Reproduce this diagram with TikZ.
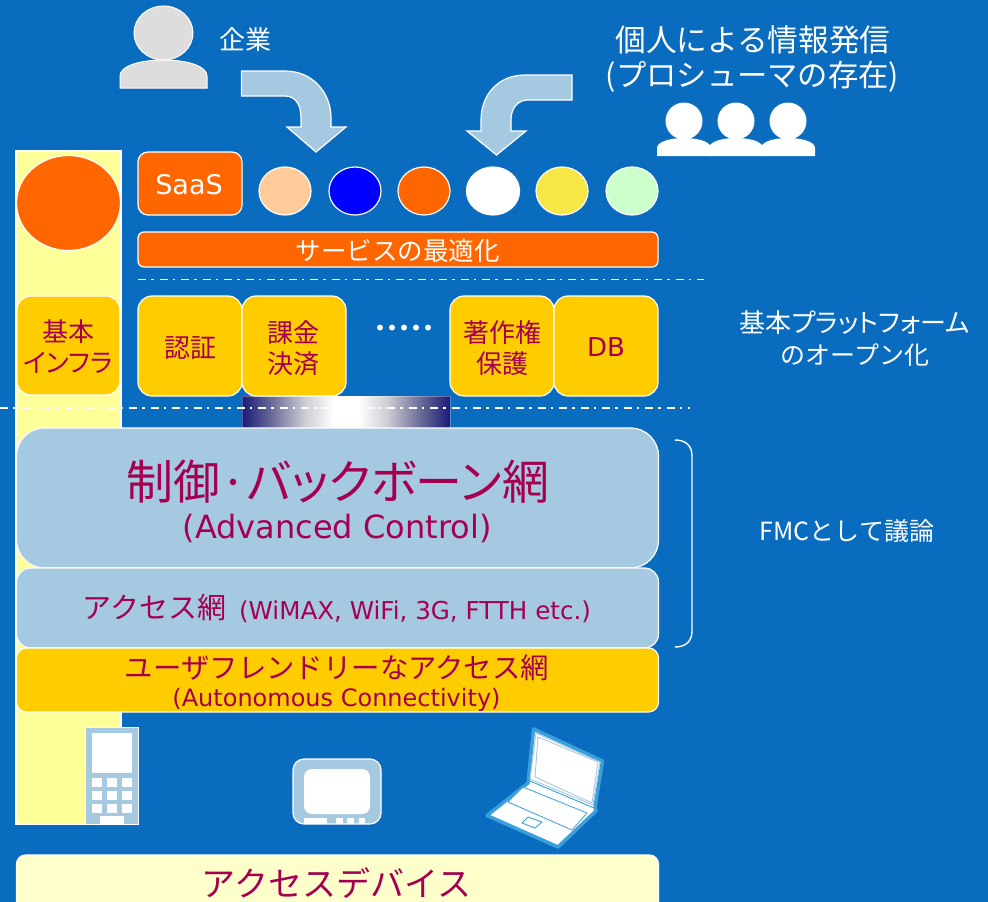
\documentclass[tikz,border=0pt]{standalone}
\usepackage{fontspec}
\setmainfont{Noto Sans CJK JP}
\newfontfamily\jpp[RawFeature=+palt]{Noto Sans CJK JP}
\newfontfamily\lat{DejaVu Sans}
\usetikzlibrary{shapes.geometric}
\definecolor{bg}{HTML}{0A6CBF}
\definecolor{wine}{HTML}{A50050}
\definecolor{pale}{HTML}{A6C9E2}
\definecolor{gold}{HTML}{FFCC00}
\definecolor{org}{HTML}{FF6600}
\definecolor{navyg}{HTML}{1A1A78}
\definecolor{glow}{HTML}{3A9FDA}
\definecolor{ybar}{HTML}{FFFF99}
\definecolor{greyp}{HTML}{DDDDDD}
\definecolor{peach}{HTML}{FFCC99}
\definecolor{yel}{HTML}{F6E646}
\definecolor{mint}{HTML}{CCFFCC}
\definecolor{cream}{HTML}{FFFFCC}
\definecolor{gmid}{HTML}{6A6A98}
\definecolor{glight}{HTML}{CCCCD4}
\pgfdeclarehorizontalshading{barglow}{100bp}{color(0bp)=(navyg); color(25bp)=(navyg); color(32bp)=(gmid); color(40bp)=(glight); color(47bp)=(white); color(53bp)=(white); color(60bp)=(glight); color(68bp)=(gmid); color(75bp)=(navyg); color(100bp)=(navyg)}
\newcommand{\fs}[1]{\fontsize{#1}{#1}\selectfont}
\tikzset{
  x=1pt,y=-1pt,
  wl/.style={draw=white,line width=1.2pt},
  boxn/.style={wl,rounded corners=#1,inner sep=0pt,outer sep=0pt},
  blob/.style={ellipse,wl,inner sep=0pt,outer sep=0pt,minimum width=52pt,minimum height=48pt},
  txt/.style={inner sep=0pt,outer sep=0pt,align=center},
  wtxt/.style={txt,text=white},
  rtxt/.style={txt,text=wine},
  ddash/.style={draw=white,dash pattern=on 8pt off 5pt on 2.5pt off 6pt},
  person/.style={draw=white,line width=1pt},
  arrowb/.style={fill=pale,draw=white,line width=1.2pt,line join=miter},
  lapline/.style={draw=glow,line width=.9pt,line join=round},
}
\begin{document}
\begin{tikzpicture}
\useasboundingbox (0,0) rectangle (988,902);
\fill[bg] (0,0) rectangle (988,902);
% yellow bar
\node[wl,fill=ybar,minimum width=105pt,minimum height=673pt,inner sep=0pt] (bar) at (68.5,487.5) {};
\node[blob,fill=org,minimum width=104pt,minimum height=95pt] (bigc) at (68.5,203) {};
% top person
\draw[person,fill=greyp] (120,88) -- (120,76) .. controls (120,66) and (140,60) .. (163.5,60) .. controls (187,60) and (207,66) .. (207,76) -- (207,88) -- cycle;
\node[ellipse,person,fill=greyp,minimum width=59pt,minimum height=54pt,inner sep=0pt] (head) at (163.5,33) {};
\node[wtxt,font=\fs{26}] (kigyo) at (245.5,40) {企業};
% arrows
\draw[arrowb] (241.5,71) -- (285,71) .. controls (312,71) and (331,92) .. (331,118) -- (331,127) -- (346,127) -- (316,152) -- (287,127) -- (301,127) -- (301,118) .. controls (301,104) and (295,96) .. (285,96) -- (241.5,96) -- cycle;
\draw[arrowb] (572,75) -- (525,75) .. controls (498,75) and (481,95) .. (481,120) -- (481,131) -- (467,131) -- (496.5,155) -- (526,131) -- (511,131) -- (511,120) .. controls (511,108) and (518,100) .. (528,100) -- (572,100) -- cycle;
% text top right
\node[wtxt,font=\fs{30.7}] (kojin) at (753,39.5) {個人による情報発信};
\node[wtxt,font=\fs{30.3}] (pros) at (752.5,77) {(プロシューマの存在)};
% three people
\foreach \c/\n in {684/a,736/b,788/c}{
  \fill[white] (\c-27,156) -- (\c-27,148) .. controls (\c-27,142) and (\c-15,138) .. (\c,138) .. controls (\c+15,138) and (\c+27,142) .. (\c+27,148) -- (\c+27,156) -- cycle;
  \node[circle,fill=white,minimum size=37pt,inner sep=0pt] (p\n) at (\c,121) {};
}
% SaaS row
\node[boxn=10pt,fill=org,minimum width=104pt,minimum height=63pt] (saas) at (190,183.5) {};
\node[wtxt,font=\fs{27}\lat] (saast) at (189,185) {SaaS};
\node[blob,fill=peach] (c1) at (285,191) {};
\node[blob,fill=blue] (c2) at (355,191) {};
\node[blob,fill=org] (c3) at (424,191) {};
\node[blob,fill=white,minimum width=53pt] (c4) at (493,191) {};
\node[blob,fill=yel] (c5) at (562,191) {};
\node[blob,fill=mint] (c6) at (632,191) {};
\node[boxn=6pt,fill=org,minimum width=520pt,minimum height=35pt] (opt) at (398,249.5) {};
\node[wtxt,font=\fs{25.5}] (optt) at (397.5,251) {サービスの最適化};
% dashed 1
\coordinate (d1a) at (138,279.5); \coordinate (d1b) at (704,279.5);
\draw[ddash,line width=1pt] (d1a) -- (d1b);
% gradient
\shade[shading=barglow] (242,396) rectangle (450,428);
\draw[white,opacity=.3,line width=1pt] (242,396) rectangle (450,428);
% yellow boxes
\node[boxn=14pt,fill=gold,minimum width=103pt,minimum height=99pt] (kihon) at (68.5,345.5) {};
\node[boxn=14pt,fill=gold,minimum width=104pt,minimum height=100pt] (nin) at (190,346) {};
\node[boxn=14pt,fill=gold,minimum width=104pt,minimum height=100pt] (ka) at (294,346) {};
\node[boxn=14pt,fill=gold,minimum width=104pt,minimum height=100pt] (cho) at (502,346) {};
\node[boxn=14pt,fill=gold,minimum width=104pt,minimum height=100pt] (db) at (606,346) {};
\node[rtxt,font=\fs{26}] (t1a) at (68,331.5) {基本};
\node[rtxt,font=\fs{26}\jpp] (t1b) at (68,362.5) {インフラ};
\node[rtxt,font=\fs{26}] (t2) at (190,348) {認証};
\node[rtxt,font=\fs{26}] (t3a) at (293.5,332.5) {課金};
\node[rtxt,font=\fs{26}] (t3b) at (293.5,363.5) {決済};
\node[rtxt,font=\fs{26}] (t4a) at (502,332.5) {著作権};
\node[rtxt,font=\fs{26}] (t4b) at (502,363.5) {保護};
\node[rtxt,font=\fs{26}\lat] (t5) at (606,347) {DB};
\foreach \x in {380,392,404,416,428}{ \fill[white] (\x,327.5) circle (3pt); }
% dashed 2
\coordinate (d2a) at (0,407.5); \coordinate (d2b) at (690,407.5);
\draw[ddash,line width=2pt] (d2a) -- (d2b);
% main stack
\node[boxn=28pt,fill=pale,minimum width=642pt,minimum height=140pt] (ctl) at (337.5,498) {};
\node[rtxt,font=\fs{47}\jpp] (ctla) at (338,482) {制御·バックボーン網};
\node[rtxt,font=\fs{32}\lat] (ctlb) at (337,528) {(Advanced Control)};
\node[boxn=14pt,fill=pale,minimum width=642pt,minimum height=80pt] (acc) at (337.5,608) {};
\node[rtxt,font=\fs{29}] (acca) at (154.5,608) {アクセス網};
\node[rtxt,font=\fs{24.6}\lat] (accb) at (415,612) {(WiMAX, WiFi, 3G, FTTH etc.)};
\node[boxn=10pt,fill=gold,minimum width=642pt,minimum height=64pt] (usr) at (337.5,680) {};
\node[rtxt,font=\fs{28.4}] (usra) at (337,668) {ユーザフレンドリーなアクセス網};
\node[rtxt,font=\fs{24}\lat] (usrb) at (336.5,700) {(Autonomous Connectivity)};
% brace
\draw[white,line width=1.4pt] (675,440) .. controls (686,440) and (692,446) .. (692,456) -- (692,631) .. controls (692,641) and (686,647) .. (675,647);
\node[wtxt,font=\fs{26}\jpp] (pf1) at (855,323) {基本プラットフォーム};
\node[wtxt,font=\fs{25}] (pf2) at (855,355) {のオープン化};
\node[wtxt,font=\fs{25}] (fmc) at (847,531) {FMCとして議論};
% phone
\draw[fill=pale,draw=white,line width=1pt] (85.5,727) rectangle (138.5,824);
\fill[white] (92,733) rectangle (132,773);
\foreach \y in {778,791,804}{\foreach \x in {92,107,122}{\fill[white] (\x,\y) rectangle (\x+10,\y+8.5);}}
\fill[white] (100,816) rectangle (124,824);
% tv
\node[boxn=11pt,fill=pale,minimum width=88pt,minimum height=65pt] (tv) at (337,791.5) {};
\fill[white,rounded corners=8pt] (304,769) rectangle (370,814);
\foreach \a/\b in {304/327,336/343,347/353.5,358.5/365}{\fill[white] (\a,818) rectangle (\b,824);}
% laptop
\draw[glow,line width=3.5pt,line join=round,fill=white] (533.5,729) -- (602.5,761) -- (595,807) -- (596,811) -- (558,847) -- (487,815.5) -- (528,783) -- cycle;
\draw[lapline,draw=pale] (536,733) -- (600,762) -- (593,805) -- (530,779) -- cycle;
\draw[lapline,draw=pale,fill=white] (538,737) -- (598,762) -- (592,803) -- (535,777) -- cycle;
\draw[lapline] (530,781) -- (594,808);
\draw[lapline,dash pattern=on 2.5pt off .5pt,fill=white] (523,787) -- (587,813) -- (572,830) -- (508,802) -- cycle;
\draw[lapline,fill=white] (528,817) -- (542,822) -- (535,828) -- (522,823) -- cycle;
% bottom
\node[boxn=9pt,fill=cream,minimum width=642pt,minimum height=66pt] (dev) at (337.5,888) {};
\node[rtxt,font=\fs{34}] (devt) at (336.5,883) {アクセスデバイス};
\end{tikzpicture}
\end{document}
